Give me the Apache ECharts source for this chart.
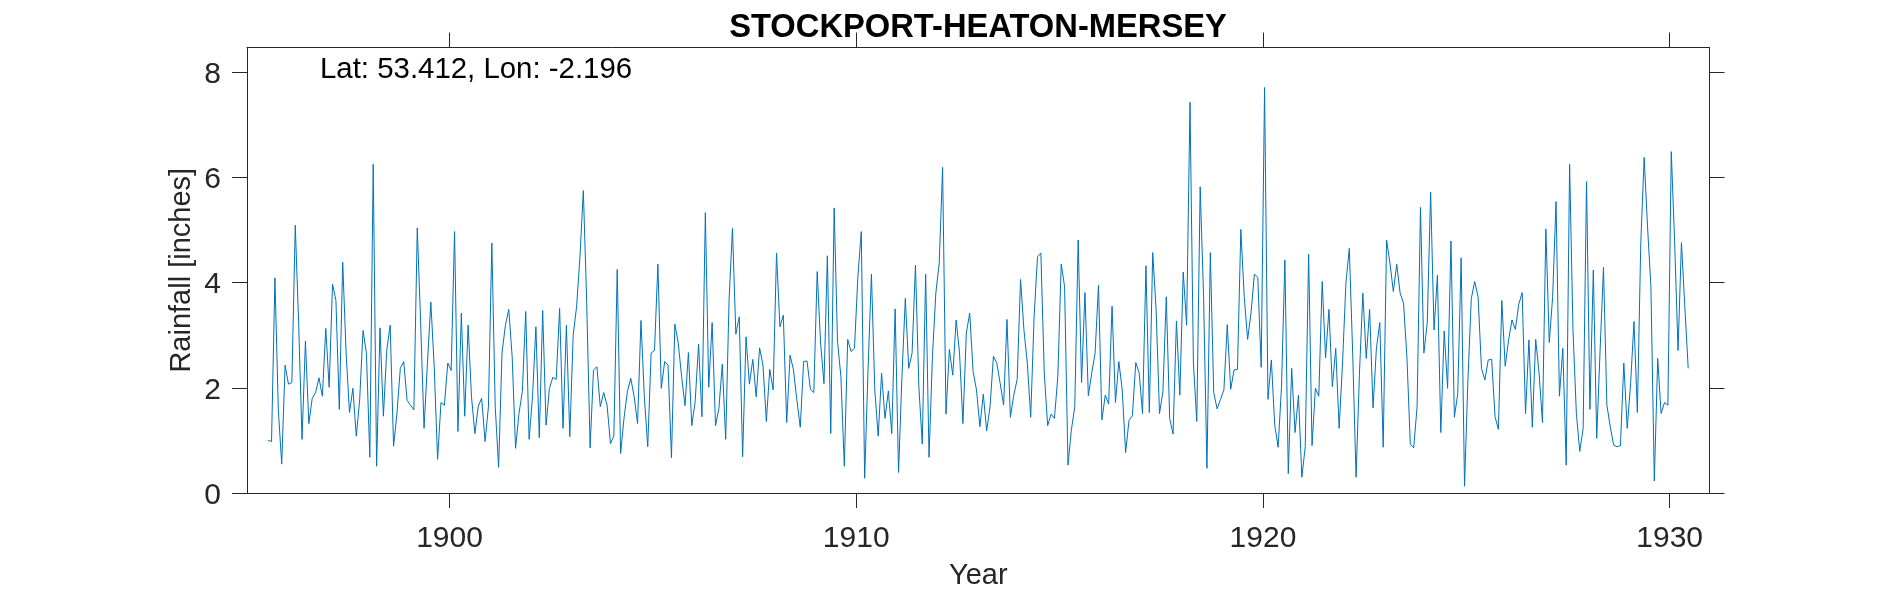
<!DOCTYPE html>
<html>
<head>
<meta charset="utf-8">
<title>STOCKPORT-HEATON-MERSEY</title>
<style>html,body{margin:0;padding:0;background:#fff}#c{width:1890px;height:591px}</style>
<script src="https://cdn.jsdelivr.net/npm/echarts@6/dist/echarts.min.js"></script>
</head>
<body>
<div id="c"></div>
<script>
const titleText = 'STOCKPORT-HEATON-MERSEY';
const noteText = 'Lat: 53.412, Lon: -2.196';
const xName = 'Year';
const yName = 'Rainfall [inches]';
const xTicks = [1900, 1910, 1920, 1930];
const yTicks = [0, 2, 4, 6, 8];
const firstYear = 1895.54;
const rainfall = [
1.00,0.98,4.09,1.58,0.55,2.43,2.07,2.10,5.09,3.23,1.02,2.89,1.32,1.80,1.91,2.19,1.84,3.13,2.01,3.97,
3.66,1.59,4.39,2.66,1.53,1.99,1.08,1.77,3.09,2.66,0.68,6.25,0.51,3.14,1.46,2.72,3.19,0.89,1.51,2.37,
2.50,1.76,1.67,1.58,5.04,3.23,1.23,2.47,3.63,2.40,0.64,1.72,1.67,2.47,2.33,4.97,1.17,3.42,1.46,3.19,
1.83,1.13,1.65,1.80,0.98,1.64,4.75,1.64,0.49,2.66,3.19,3.49,2.59,0.85,1.51,1.93,3.45,1.02,1.83,3.16,
1.05,3.47,1.29,1.99,2.20,2.16,3.51,1.23,3.19,1.07,3.00,3.54,4.49,5.75,3.61,0.86,2.34,2.40,1.64,1.91,
1.67,0.94,1.08,4.25,0.75,1.42,1.93,2.18,1.83,1.32,3.28,1.83,0.88,2.66,2.71,4.35,1.99,2.50,2.43,0.67,
3.21,2.85,2.21,1.66,2.67,1.28,1.74,2.83,1.45,5.33,2.01,3.24,1.28,1.61,2.45,1.02,3.67,5.03,3.02,3.35,
0.69,2.97,2.07,2.54,1.83,2.76,2.43,1.36,2.35,1.96,4.56,3.16,3.38,1.34,2.62,2.34,1.77,1.25,2.50,2.51,
1.97,1.91,4.21,2.85,2.08,4.51,1.13,5.42,2.88,2.21,0.51,2.92,2.69,2.75,4.11,4.97,0.28,2.34,4.16,1.96,
1.08,2.28,1.42,1.94,1.13,3.50,0.39,2.21,3.70,2.37,2.66,4.33,2.02,0.93,4.16,0.68,2.59,3.80,4.37,6.19,
1.50,2.73,2.24,3.29,2.66,1.32,3.04,3.42,2.31,1.96,1.26,1.88,1.18,1.64,2.60,2.47,2.08,1.67,3.30,1.44,
1.86,2.16,4.06,3.10,2.47,1.44,3.35,4.49,4.56,2.28,1.28,1.50,1.42,2.21,4.35,3.92,0.53,1.20,1.64,4.81,
2.10,3.81,1.85,2.28,2.66,3.95,1.39,1.86,1.69,3.55,1.72,2.50,1.96,0.77,1.38,1.47,2.48,2.28,1.51,4.32,
1.53,4.57,3.48,1.51,1.93,3.73,1.42,1.12,3.27,1.86,4.20,3.19,7.43,2.47,1.36,5.82,3.73,0.47,4.57,1.91,
1.60,1.78,1.96,3.20,1.97,2.34,2.35,5.01,3.73,2.92,3.42,4.16,4.10,2.39,7.71,1.78,2.53,1.29,0.87,2.02,
4.43,0.37,2.37,1.15,1.86,0.30,0.88,4.54,0.90,1.99,1.84,4.02,2.57,3.49,2.02,2.75,1.23,2.47,3.99,4.65,
2.66,0.30,2.28,3.80,2.56,3.49,1.62,2.75,3.24,0.87,4.81,4.37,3.83,4.35,3.80,3.61,2.59,0.93,0.86,1.64,
5.43,2.66,3.23,5.72,3.10,4.14,1.15,3.08,1.99,4.79,1.44,1.89,4.47,0.13,2.15,3.70,4.02,3.73,2.37,2.15,
2.53,2.54,1.45,1.21,3.66,2.41,2.91,3.29,3.11,3.59,3.81,1.51,2.91,1.25,2.92,2.28,1.34,5.02,2.86,3.73,
5.54,1.84,2.75,0.53,6.25,3.10,1.51,0.79,1.23,5.92,1.59,4.24,1.04,2.72,4.29,1.67,1.26,0.91,0.88,0.90,
2.47,1.23,2.08,3.26,1.53,4.75,6.38,5.06,3.92,0.23,2.56,1.51,1.72,1.67,6.49,4.75,2.71,4.76,3.54,2.37
];

const ink = '#262626';
const lineStyle = { color: ink, width: 1 };
const tickFont = { fontFamily: 'Liberation Sans', color: ink, fontSize: 30 };
const nameFont = { fontFamily: 'Liberation Sans', color: ink, fontSize: 29 };
const chart = echarts.init(document.getElementById('c'), null, { renderer: 'canvas' });
chart.setOption({
  animation: false,
  backgroundColor: '#fff',
  title: {
    text: titleText, left: 973, top: 6, textAlign: 'center',
    textStyle: { fontFamily: 'Liberation Sans', fontSize: 32.7, fontWeight: 'bold', color: '#000' }
  },
  graphic: [{
    type: 'text', left: 320, top: 55,
    style: { text: noteText, fontFamily: 'Liberation Sans', fontSize: 29.4, fill: '#000' }
  }],
  grid: { left: 247, top: 47.5, width: 1462.5, height: 445.5, containLabel: false, outerBoundsMode: 'none' },
  xAxis: [{
    type: 'value', position: 'bottom', min: 1895.02, max: 1930.98,
    name: xName, nameLocation: 'middle', nameGap: 68, nameMoveOverlap: false,
    nameTextStyle: nameFont,
    splitLine: { show: false },
    axisLine: { show: true, onZero: false, lineStyle },
    axisTick: { show: true, inside: false, length: 15, lineStyle, customValues: xTicks },
    axisLabel: { ...tickFont, margin: 31, formatter: v => String(v), customValues: xTicks }
  }, {
    type: 'value', position: 'top', min: 1895.02, max: 1930.98,
    splitLine: { show: false },
    axisLine: { show: true, onZero: false, lineStyle },
    axisTick: { show: true, inside: false, length: 15, lineStyle, customValues: xTicks },
    axisLabel: { show: false }
  }],
  yAxis: [{
    type: 'value', position: 'left', min: 0, max: 8.47,
    name: yName, nameLocation: 'middle', nameGap: 51, nameMoveOverlap: false, nameRotate: 90,
    nameTextStyle: nameFont,
    splitLine: { show: false },
    axisLine: { show: true, onZero: false, lineStyle },
    axisTick: { show: true, inside: false, length: 15, lineStyle, customValues: yTicks },
    axisLabel: {
      ...tickFont, margin: 26, customValues: yTicks,
      formatter: v => '{a|' + v + '}',
      rich: { a: { ...tickFont, padding: [5, 0, 0, 0] } }
    }
  }, {
    type: 'value', position: 'right', min: 0, max: 8.47,
    splitLine: { show: false },
    axisLine: { show: true, onZero: false, lineStyle },
    axisTick: { show: true, inside: false, length: 15, lineStyle, customValues: yTicks },
    axisLabel: { show: false }
  }],
  series: [{
    type: 'line', xAxisIndex: 0, yAxisIndex: 0,
    showSymbol: false, symbol: 'none', smooth: false,
    lineStyle: { color: '#0072BD', width: 1 },
    data: rainfall.map((v, i) => [firstYear + i / 12, v])
  }]
});
</script>
</body>
</html>
